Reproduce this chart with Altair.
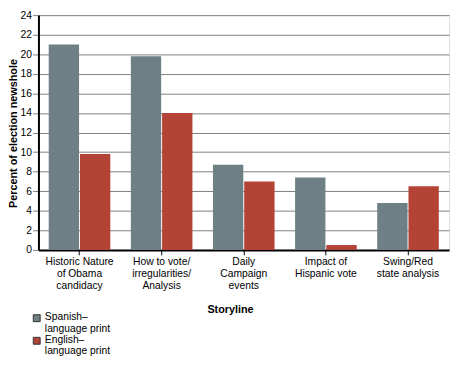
import altair as alt
import pandas as pd

categories = [
    "Historic Nature\nof Obama\ncandidacy",
    "How to vote/\nirregularities/\nAnalysis",
    "Daily\nCampaign\nevents",
    "Impact of\nHispanic vote",
    "Swing/Red\nstate analysis",
]
series = ["Spanish–\nlanguage print", "English–\nlanguage print"]
spanish = [21.0, 19.8, 8.7, 7.4, 4.8]
english = [9.8, 14.0, 7.0, 0.5, 6.5]
colors = ["#6E7F85", "#B34335"]
y_ticks = list(range(0, 25, 2))

rows = []
for c, s, e in zip(categories, spanish, english):
    rows.append({"Storyline": c, "Series": series[0], "Value": s})
    rows.append({"Storyline": c, "Series": series[1], "Value": e})
df = pd.DataFrame(rows)

FONT = "Liberation Sans"

chart = alt.Chart(df).mark_bar().encode(
    x=alt.X(
        "Storyline:N",
        sort=categories,
        scale=alt.Scale(paddingInner=0.25, paddingOuter=0.125),
        axis=alt.Axis(
            title="Storyline",
            labelExpr="split(datum.label, '\\n')",
            labelAngle=0,
            labelLimit=0,
            labelOverlap=False,
            labelFont=FONT,
            labelFontSize=10.5,
            labelColor="#000000",
            labelLineHeight=12,
            labelPadding=2,
            labelBaseline="top",
            tickColor="#000000",
            tickSize=5,
            domainColor="#000000",
            domainWidth=2,
            titleFont=FONT,
            titleFontSize=11,
            titleFontWeight="bold",
            titleColor="#000000",
            titleX=195,
            titleY=61,
            titleAlign="center",
            titleBaseline="middle",
        ),
    ),
    xOffset=alt.XOffset(
        "Series:N", sort=series, scale=alt.Scale(paddingInner=0.03)
    ),
    y=alt.Y(
        "Value:Q",
        scale=alt.Scale(domain=[0, 24], nice=False),
        axis=alt.Axis(
            title="Percent of election newshole",
            values=y_ticks,
            grid=True,
            gridColor="#808080",
            gridWidth=1,
            gridOpacity=1,
            labelFont=FONT,
            labelFontSize=10.5,
            labelColor="#000000",
            labelPadding=1,
            tickColor="#808080",
            tickSize=6,
            domainColor="#000000",
            domainWidth=2,
            titleFont=FONT,
            titleFontSize=11,
            titleFontWeight="bold",
            titleColor="#000000",
            titleAngle=270,
            titleX=-22,
            titleY=120,
            titleAlign="center",
            titleBaseline="alphabetic",
        ),
    ),
    color=alt.Color(
        "Series:N",
        sort=series,
        scale=alt.Scale(domain=series, range=colors),
        legend=alt.Legend(
            title=None,
            orient="none",
            legendX=-7,
            legendY=302,
            padding=0,
            labelExpr="split(datum.label, '\\n')",
            labelFont=FONT,
            labelFontSize=10.5,
            labelColor="#000000",
            labelOffset=3,
            labelLimit=0,
            symbolType="M-1,-0.643H1V1.357H-1Z",
            symbolSize=49,
            symbolStrokeColor="#333333",
            symbolStrokeWidth=1,
            symbolOpacity=1,
            rowPadding=0,
        ),
    ),
).properties(
    width=418,
    height=239,
    autosize=alt.AutoSizeParams(type="none"),
    padding={"left": 31, "top": 4, "right": 4, "bottom": 121},
).configure_view(
    fill="#EBEBEB",
    stroke="#808080",
    strokeWidth=1,
).configure(
    background="#FFFFFF",
    style={"guide-label": {"lineHeight": 12}},
)

chart.save("out.html", embed_options={"renderer": "svg", "actions": False})
